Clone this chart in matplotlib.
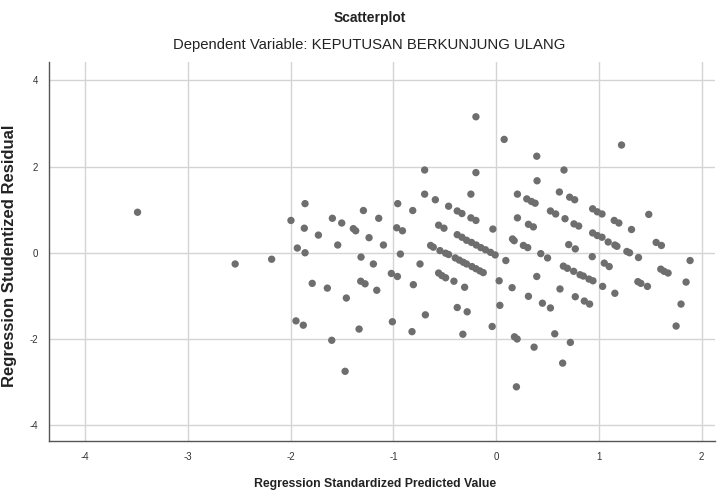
import matplotlib.pyplot as plt
import numpy as np

# standardized predicted value (x) and studentized residual (y)
pred = [
    -3.49, -2.54, -2.185,
    -1.997, -1.86, -1.867, -1.935, -1.86, -1.73, -1.594, -1.503, -1.39, -1.367,
    -1.292, -1.237, -1.143, -1.097, -1.542, -1.315, -1.195, -1.79, -1.643,
    -1.458, -1.318, -1.276, -1.162, -1.02, -0.961, -0.958, -0.968, -0.912,
    -0.932, -1.948, -1.877, -1.60, -1.334, -1.01, -1.47,
    -0.197, 0.078, -0.696, -0.197, -0.696, -0.592, -0.812, -0.246, -0.463,
    -0.379, -0.333, -0.246, -0.197, -0.56, -0.508, -0.032,
    -0.379, -0.333, -0.288, -0.240, -0.194, -0.149, -0.104, -0.055, -0.01,
    -0.638, -0.612, -0.547, -0.492, -0.463,
    -0.398, -0.359, -0.32, -0.288, -0.236, -0.197, -0.159, -0.126,
    0.094, -0.741, -0.806, -0.56, -0.528, -0.492, -0.411, -0.307, 0.029, 0.155,
    -0.689, -0.379, -0.282, 0.036, -0.819, -0.324, -0.039,
    0.159, 0.175, 0.178, 0.204, 0.197,
    0.395, 0.66, 0.398, 0.207, 0.298, 0.343, 0.379, 0.615, 0.715, 0.764,
    0.528, 0.579, 0.207, 0.314, 0.362, 0.67, 0.757, 0.803,
    0.939, 0.984, 1.03, 0.939, 0.984, 1.03, 1.09,
    0.265, 0.307, 0.706, 0.77, 0.434, 0.50, 0.935,
    0.654, 0.693, 0.754, 0.816, 0.848, 0.903, 0.942, 0.395, 0.621, 1.036,
    0.314, 0.77, 0.858, 0.909, 0.45, 0.528, 0.369, 0.57, 0.722, 0.647,
    1.22, 1.149, 1.194, 1.485, 1.317, 1.155, 1.175, 1.272, 1.298, 1.385,
    1.557, 1.608, 1.052, 1.10, 1.155, 1.379, 1.408, 1.472,
    1.602, 1.634, 1.673, 1.887, 1.848, 1.799, 1.751,
]
resid = [
    0.94, -0.26, -0.15,
    0.75, 1.14, 0.57, 0.11, 0.0, 0.41, 0.80, 0.69, 0.56, 0.51,
    0.98, 0.35, 0.80, 0.18, 0.18, -0.10, -0.26, -0.71, -0.82,
    -1.05, -0.66, -0.72, -0.87, -0.48, -0.55, 1.14, 0.58, 0.51,
    -0.03, -1.58, -1.68, -2.03, -1.77, -1.60, -2.75,
    3.155, 2.63, 1.92, 1.86, 1.36, 1.23, 0.98, 1.36, 1.08,
    0.97, 0.91, 0.81, 0.75, 0.64, 0.57, 0.55,
    0.42, 0.36, 0.29, 0.24, 0.18, 0.12, 0.07, 0.01, -0.05,
    0.17, 0.13, 0.05, -0.01, -0.04,
    -0.12, -0.17, -0.22, -0.26, -0.32, -0.37, -0.42, -0.46,
    -0.18, -0.26, -0.74, -0.47, -0.53, -0.58, -0.66, -0.80, -0.65, -0.81,
    -1.44, -1.27, -1.37, -1.22, -1.83, -1.89, -1.71,
    0.32, 0.28, -1.95, -2.0, -3.11,
    2.24, 1.92, 1.67, 1.36, 1.25, 1.19, 1.15, 1.41, 1.29, 1.23,
    0.97, 0.90, 0.81, 0.66, 0.60, 0.79, 0.67, 0.62,
    1.02, 0.95, 0.90, 0.46, 0.40, 0.36, 0.25,
    0.17, 0.12, 0.19, 0.09, -0.02, -0.12, -0.09,
    -0.31, -0.36, -0.43, -0.51, -0.54, -0.61, -0.65, -0.55, -0.84, -0.78,
    -1.01, -1.02, -1.12, -1.19, -1.17, -1.28, -2.19, -1.88, -2.08, -2.56,
    2.50, 0.75, 0.69, 0.89, 0.54, 0.18, 0.15, 0.03, 0.0, -0.11,
    0.24, 0.17, -0.24, -0.32, -0.94, -0.67, -0.71, -0.78,
    -0.38, -0.43, -0.47, -0.18, -0.68, -1.19, -1.70,
]

x_ticks = [-4, -3, -2, -1, 0, 1, 2]
y_ticks = [-4, -2, 0, 2, 4]

plt.rcParams['font.family'] = ['Liberation Sans', 'DejaVu Sans']
plt.rcParams['axes.unicode_minus'] = False

fig = plt.figure(figsize=(7.23, 4.94), dpi=100)
ax = fig.add_axes([0.068, 0.107, 0.921, 0.767])

ax.scatter(pred, resid, s=28, color='#6e6e6e', edgecolors='none', zorder=3)

ax.set_xlim(-4.35, 2.13)
ax.set_ylim(-4.37, 4.42)
ax.set_xticks(x_ticks)
ax.set_yticks(y_ticks)
ax.grid(True, color='#d4d4d4', linewidth=1.0, zorder=0)
ax.set_axisbelow(True)

for s in ['top', 'right']:
    ax.spines[s].set_visible(False)
for s in ['left', 'bottom']:
    ax.spines[s].set_color('#555555')
    ax.spines[s].set_linewidth(1.0)

ax.tick_params(length=0, pad=8, labelsize=7, colors='#333333')

ax.set_xlabel('Regression Standardized Predicted Value',
              fontsize=8.8, fontweight='bold', color='#222222')
ax.xaxis.set_label_coords(0.49, -0.097)
ax.set_ylabel('Regression Studentized Residual',
              fontsize=12, fontweight='bold', color='#222222')
ax.yaxis.set_label_coords(-0.049, 0.49)

fig.text(0.512, 0.963, 'Scatterplot', fontsize=10,
         fontweight='bold', ha='center', va='center', color='#222222')
fig.text(0.511, 0.908, 'Dependent Variable: KEPUTUSAN BERKUNJUNG ULANG',
         fontsize=10.7, ha='center', va='center', color='#222222')

fig.savefig('out.png', dpi=100)
